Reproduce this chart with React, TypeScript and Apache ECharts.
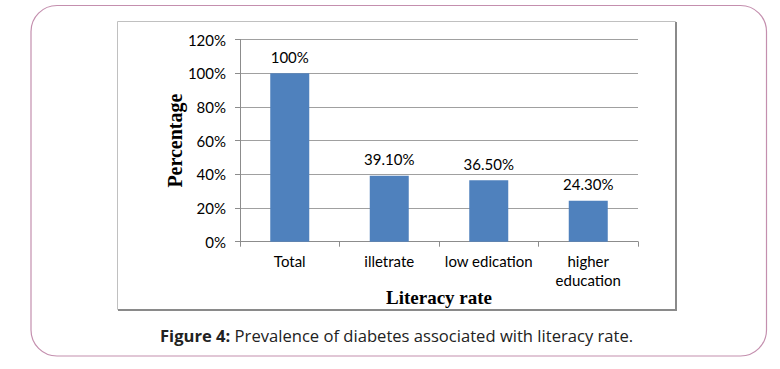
import React, { useEffect, useRef } from "react";
import * as echarts from "echarts";

const categories = ["Total", "illetrate", "low edication", "higher\neducation"];
const values = [1.0, 0.391, 0.365, 0.243];
const valueLabels = ["100%", "39.10%", "36.50%", "24.30%"];
const yTicks = { min: 0, max: 1.2, interval: 0.2 };

export default function App() {
  const ref = useRef<HTMLDivElement>(null);
  useEffect(() => {
    if (!ref.current) return;
    const chart = echarts.init(ref.current, null, { renderer: "svg" });
    const font = "Lato, 'Open Sans', sans-serif";
    chart.setOption({
      animation: false,
      backgroundColor: "#ffffff",
      grid: { left: 240, top: 39.5, width: 398, height: 202.2, containLabel: false },
      xAxis: {
        type: "category",
        data: categories,
        boundaryGap: true,
        axisLine: { lineStyle: { color: "#8c8c8c", width: 1 } },
        axisTick: { show: true, length: 5, alignWithLabel: false, lineStyle: { color: "#8c8c8c" } },
        axisLabel: { color: "#000", fontFamily: font, fontSize: 15, margin: 10, lineHeight: 19, interval: 0 },
        name: "Literacy rate",
        nameLocation: "middle",
        nameGap: 46,
        nameMoveOverlap: false,
        nameTextStyle: { fontFamily: "'Liberation Serif', serif", fontWeight: "bold", fontSize: 19, color: "#000" },
      },
      yAxis: {
        type: "value",
        min: yTicks.min,
        max: yTicks.max,
        interval: yTicks.interval,
        axisLine: { show: true, lineStyle: { color: "#8c8c8c", width: 1 } },
        axisTick: { show: true, length: 5, lineStyle: { color: "#8c8c8c" } },
        axisLabel: {
          color: "#000",
          fontFamily: font,
          fontSize: 15,
          margin: 14,
          formatter: (v: number) => Math.round(v * 100) + "%",
        },
        splitLine: { show: true, lineStyle: { color: "#a0a0a0", width: 1 } },
        name: "Percentage",
        nameLocation: "middle",
        nameGap: 55,
        nameMoveOverlap: false,
        nameRotate: 90,
        nameTextStyle: { fontFamily: "'Liberation Serif', serif", fontWeight: "bold", fontSize: 20, color: "#000" },
      },
      series: [
        {
          type: "bar",
          data: values,
          barWidth: 39,
          itemStyle: { color: "#4f81bd" },
          label: {
            show: true,
            position: "top",
            distance: 9,
            color: "#000",
            fontFamily: font,
            fontSize: 15,
            formatter: (p: any) => valueLabels[p.dataIndex],
          },
        },
      ],
      graphic: [
        {
          type: "rect",
          z: -10,
          shape: { x: 31, y: 5.5, width: 735.5, height: 350.5, r: 26 },
          style: { fill: "none", stroke: "#c48fae", lineWidth: 1.2 },
        },
        {
          type: "rect",
          z: -9,
          shape: { x: 117.5, y: 21.5, width: 558, height: 288 },
          style: { fill: "none", stroke: "#c0c0c0", lineWidth: 1 },
        },
        {
          type: "polyline",
          z: -8,
          shape: { points: [[676, 22], [676, 310], [118, 310]] },
          style: { fill: "none", stroke: "#8a8a8a", lineWidth: 2 },
        },
        {
          type: "text",
          left: 160,
          top: 327,
          style: {
            text: "{b|Figure 4:} Prevalence of diabetes associated with literacy rate.",
            font: "16.6px 'Open Sans', sans-serif",
            fill: "#222",
            rich: {
              b: { fontWeight: "bold", fontSize: 16.6, fontFamily: "'Open Sans', sans-serif", fill: "#222" },
            },
          },
        },
      ],
    });
    return () => chart.dispose();
  }, []);
  return <div ref={ref} style={{ width: 780, height: 369, position: "absolute", left: 0, top: 0 }} />;
}
